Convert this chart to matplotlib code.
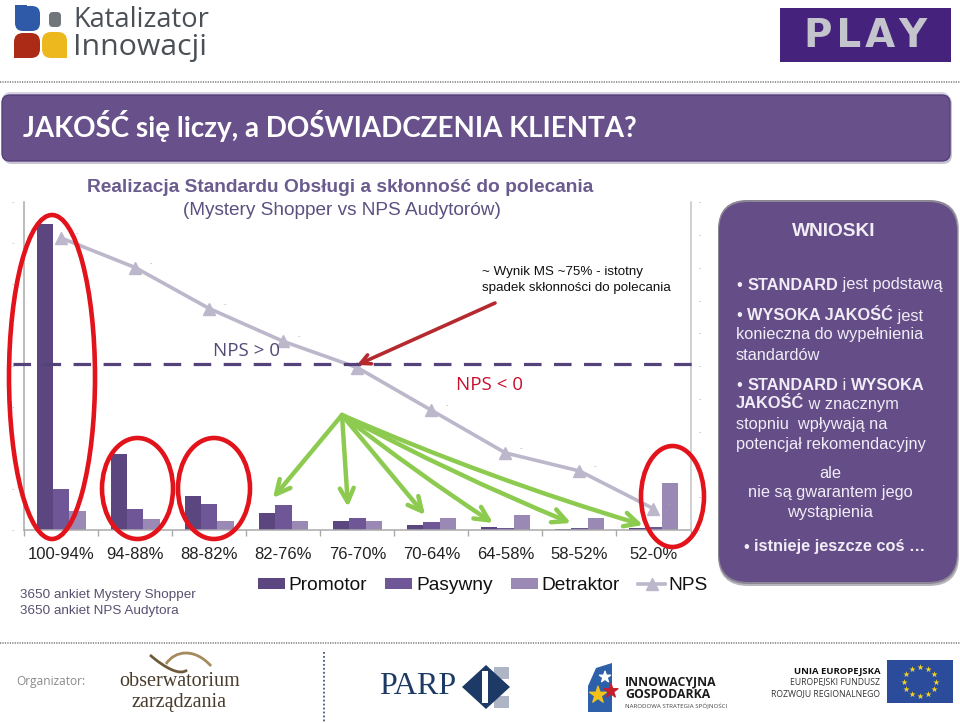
import numpy as np
import matplotlib
matplotlib.use("Agg")
import matplotlib.pyplot as plt
from matplotlib.patches import FancyBboxPatch, Ellipse, Rectangle, Polygon, PathPatch
from matplotlib.path import Path

categories = ["100-94%", "94-88%", "88-82%", "82-76%", "76-70%", "70-64%", "64-58%", "58-52%", "52-0%"]
promotor = [74.6, 18.6, 8.2, 4.1, 2.1, 1.1, 0.8, 0.2, 0.4]
pasywny = [10.0, 5.1, 6.4, 6.1, 3.0, 1.9, 0.5, 0.5, 0.65]
detraktor = [4.6, 2.6, 2.3, 2.1, 2.1, 2.9, 3.7, 2.9, 11.4]
nps = [78, 60, 35, 15, -1, -27, -53, -64, -87]

PROM, PAS, DET, NPSC = "#5B4680", "#6F5697", "#9A89B5", "#BDB7CC"
PANEL = "#654D87"
SANS = "Liberation Sans"

W, H = 960, 723
fig = plt.figure(figsize=(W / 100, H / 100), dpi=100, facecolor="white")

def px_axes(l, t, r, b, **kw):
    return fig.add_axes([l / W, 1 - b / H, (r - l) / W, (b - t) / H], **kw)

# ---------- background layer (pixel coordinates) ----------
bg = fig.add_axes([0, 0, 1, 1], zorder=0)
bg.set_xlim(0, W); bg.set_ylim(H, 0); bg.axis("off")

def rbox(ax, x0, y0, x1, y1, r, **kw):
    p = FancyBboxPatch((x0 + r, y0 + r), x1 - x0 - 2 * r, y1 - y0 - 2 * r,
                       boxstyle=f"round,pad={r},rounding_size={r}", **kw)
    ax.add_patch(p)
    return p

# dotted separators
bg.plot([0, 960], [82, 82], color="#777777", lw=1.1, ls=(0, (0.8, 0.8)))
bg.plot([0, 960], [643, 643], color="#777777", lw=1.1, ls=(0, (0.8, 0.8)))
bg.plot([324, 324], [652, 722], color="#44597a", lw=1.3, ls=(0, (1, 1.2)))

# title bar
rbox(bg, 3, 95, 952, 164, 9, fc="#c9c4d4", ec="none")
rbox(bg, 2, 92, 950, 162, 9, fc="#d9d2e2", ec="none")
rbox(bg, 2, 95, 950, 161, 8, fc="#68508A", ec="#55407a", lw=1)
bg.text(23, 126, "JAKOŚĆ się liczy, a DOŚWIADCZENIA KLIENTA?", family="Lato", fontsize=20.0,
        color="white", va="center", ha="left", weight="bold")

# Katalizator logo
rbox(bg, 15, 6, 40, 31, 8, fc="#2f5aa8", ec="none")
bg.add_patch(Rectangle((15, 5), 12, 12, fc="#2f5aa8", ec="none"))
rbox(bg, 49, 12, 61, 27, 4, fc="#70767c", ec="none")
rbox(bg, 14, 33, 40, 58, 9, fc="#ac2b17", ec="none")
bg.add_patch(Rectangle((14, 46), 12, 12, fc="#ac2b17", ec="none"))
rbox(bg, 42, 32, 67, 58, 9, fc="#edb81e", ec="none")
bg.add_patch(Rectangle((55, 46), 12, 12, fc="#edb81e", ec="none"))
bg.text(73, 20, "Katalizator", family="Open Sans", fontsize=19.6, color="#4a5056", va="center")
bg.text(73, 47, "Innowacji", family="Open Sans", fontsize=21.8, color="#4a5056", va="center")

# PLAY logo
bg.add_patch(Rectangle((780, 8), 171, 54, fc="#45237C", ec="none"))
bg.text(866, 36, "P\u200aL\u200aA\u200aY", family="DejaVu Sans", weight="bold", fontsize=28, color="#c4c4cc",
        ha="center", va="center")

# headings
bg.text(340, 187, "Realizacja Standardu Obsługi a skłonność do polecania", family=SANS, weight="bold",
        fontsize=13.8, color="#6A5C8E", ha="center", va="center")
bg.text(341.5, 210.5, "(Mystery Shopper vs NPS Audytorów)", family=SANS, fontsize=13.7, color="#5C5080",
        ha="center", va="center")
bg.text(20, 595, "3650 ankiet Mystery Shopper", family=SANS, fontsize=9.7, color="#5A5070", va="center")
bg.text(20, 611, "3650 ankiet NPS Audytora", family=SANS, fontsize=9.7, color="#5A5070", va="center")

# conclusions panel
rbox(bg, 718, 200, 959, 586, 30, fc="#b5b5bb", ec="none")
rbox(bg, 718, 200, 958, 584, 30, fc="#8b8595", ec="none")
rbox(bg, 719, 202, 957, 582, 29, fc=PANEL, ec="none")

PT = "#F1EDF6"
PFS = 11.8
fig.canvas.draw()
rend = fig.canvas.get_renderer()

def runs(x, y, parts, size=PFS):
    for s, bold in parts:
        t = bg.text(x, y + 1, s, family=SANS, fontsize=size, color=PT, va="center", ha="left",
                    weight="bold" if bold else "normal")
        x += t.get_window_extent(rend).width

bg.text(834, 232, "WNIOSKI", family=SANS, weight="bold", fontsize=13.8, color=PT, ha="center", va="center")
runs(737, 284, [("• ", False), ("STANDARD", True), (" jest podstawą", False)])
runs(737, 315, [("• ", False), ("WYSOKA JAKOŚĆ", True), (" jest", False)])
runs(736, 334, [("konieczna do wypełnienia", False)])
runs(736, 354, [("standardów", False)])
runs(737, 384, [("• ", False), ("STANDARD", True), (" i ", False), ("WYSOKA", True)])
runs(736, 403, [("JAKOŚĆ", True), (" w znacznym", False)])
runs(736, 423, [("stopniu  wpływają na", False)])
runs(736, 443, [("potencjał rekomendacyjny", False)])
for y, s in [(473, "ale"), (493, "nie są gwarantem jego"), (513, "wystąpienia")]:
    bg.text(830, y, s, family=SANS, fontsize=PFS, color=PT, ha="center", va="center")
runs(744, 546, [("• ", False), ("istnieje jeszcze coś …", True)])

# footer
bg.text(16, 681, "Organizator:", family="Open Sans", fontsize=8.6, color="#8a8a8a", va="center")
bg.text(179.5, 682, "obserwatorium", family="Liberation Serif", fontsize=14.5, color="#4a3c2c",
        ha="center", va="center")
bg.text(179.5, 702, "zarządzania", family="Liberation Serif", fontsize=14.5, color="#4a3c2c",
        ha="center", va="center")
for pts, col in [([(150, 655), (165, 668), (180, 676), (187, 670)], "#6f5a3a"),
                 ([(166, 664), (175, 650), (195, 648), (211, 666)], "#a58a5c")]:
    bg.add_patch(PathPatch(Path(pts, [Path.MOVETO, Path.CURVE4, Path.CURVE4, Path.CURVE4]),
                           fc="none", ec=col, lw=2))

bg.text(417.5, 687, "PARP", family="Liberation Serif", fontsize=23, color="#1d3a66", ha="center", va="center")
bg.add_patch(Rectangle((494, 667), 15, 12, fc="#aeb5c4", ec="none"))
bg.add_patch(Rectangle((494, 696), 15, 12, fc="#aeb5c4", ec="none"))
bg.add_patch(Polygon([(486, 665), (510, 687), (486, 709), (462, 687)], fc="#1d3a66", ec="none"))
bg.add_patch(Rectangle((482, 671), 6, 32, fc="white", ec="none"))

bg.add_patch(Polygon([(596, 668), (612, 663), (612, 712), (588, 712), (588, 686)], fc="#2E5FA9", ec="none"))
bg.scatter([605, 598, 611], [677, 695, 691], marker="*", s=[70, 160, 110],
           c=["white", "#f2c21b", "#c41f2c"], zorder=3)
bg.text(625, 682, "INNOWACYJNA", family="Open Sans", weight="bold", fontsize=8.8, color="#1b1b1b", va="center")
bg.text(625, 695, "GOSPODARKA", family="Open Sans", weight="bold", fontsize=8.8, color="#1b1b1b", va="center")
bg.text(625, 705, "NARODOWA STRATEGIA SPÓJNOŚCI", family="Open Sans", fontsize=4.4, color="#444444", va="center")

bg.text(880, 671, "UNIA EUROPEJSKA", family="Open Sans", weight="bold", fontsize=6.8, color="#111111", ha="right", va="center")
bg.text(880, 682, "EUROPEJSKI FUNDUSZ", family="Open Sans", fontsize=6.2, color="#333333", ha="right", va="center")
bg.text(880, 694, "ROZWOJU REGIONALNEGO", family="Open Sans", fontsize=6.2, color="#333333", ha="right", va="center")
bg.add_patch(Rectangle((887, 660), 66, 43, fc="#2B4C9B", ec="none"))
ang = np.deg2rad(np.arange(0, 360, 30))
bg.scatter(920 + 16 * np.cos(ang), 681.5 + 14.5 * np.sin(ang), marker="*", s=22, c="#F4D320", zorder=3, linewidths=0)

# ---------- chart ----------
ax = px_axes(24.3, 202, 690.5, 530, zorder=2)
ax.patch.set_alpha(0)
x = np.arange(len(categories)) + 0.5
bw = 0.22
b1 = ax.bar(x - bw, promotor, bw, color=PROM, label="Promotor")
b2 = ax.bar(x, pasywny, bw, color=PAS, label="Pasywny")
b3 = ax.bar(x + bw, detraktor, bw, color=DET, label="Detraktor")
ax.set_xlim(0, len(categories)); ax.set_ylim(0, 80)
ax.set_xticks(np.arange(len(categories) + 1))
ax.set_xticklabels([])
ax.set_xticks(x, minor=True)
ax.set_xticklabels(categories, minor=True, family=SANS, fontsize=12, color="#222222")
ax.tick_params(axis="x", which="major", length=4, color="#a9a9a9", width=1)
ax.tick_params(axis="x", which="minor", length=0, pad=12)
ax.set_yticks(np.arange(0, 81, 10))
ax.set_yticklabels(["-"] * 9, fontsize=5, color="#aaaaaa")
ax.tick_params(axis="y", length=0, pad=7)
for s in ("top", "right"):
    ax.spines[s].set_visible(False)
for s in ("left", "bottom"):
    ax.spines[s].set_color("#a9a9a9"); ax.spines[s].set_linewidth(1.1)

ax2 = ax.twinx()
ax2.patch.set_alpha(0)
ln, = ax2.plot(x, nps, color=NPSC, lw=2.6, marker="^", ms=9, mec=NPSC, mfc=NPSC, label="NPS", zorder=4)
for xi, v in zip(x, nps):
    ax2.annotate("-", (xi, v), xytext=(10, 2), textcoords="offset points", fontsize=5, color="#aaaaaa")
ax2.set_ylim(-100, 100)
ax2.set_yticks(np.arange(-100, 101, 20))
ax2.set_yticklabels(["-"] * 11, fontsize=5, color="#aaaaaa")
ax2.tick_params(axis="y", length=0, pad=6)
for s in ("top", "left", "bottom"):
    ax2.spines[s].set_visible(False)
ax2.spines["right"].set_color("#c4c4c4"); ax2.spines["right"].set_linewidth(1.1)

leg = fig.legend([b1, b2, b3, ln], ["Promotor", "Pasywny", "Detraktor", "NPS"], ncol=4, frameon=False,
                 loc="center", bbox_to_anchor=(483 / W, 1 - 586 / H),
                 prop={"family": SANS, "size": 13.8}, handlelength=1.4, handleheight=0.55,
                 columnspacing=0.95, handletextpad=0.2, labelcolor="#111111")

# ---------- overlay annotations (pixel coordinates) ----------
ov = fig.add_axes([0, 0, 1, 1], zorder=5)
ov.set_xlim(0, W); ov.set_ylim(H, 0); ov.axis("off"); ov.patch.set_alpha(0)

ov.plot([13, 695], [364, 364], color="#54437A", lw=2.3, ls=(0, (5.5, 3.9)))
ov.text(213, 351, "NPS > 0", family="Open Sans", fontsize=13.5, color="#544A78", va="center")
ov.text(456, 385.5, "NPS < 0", family="Open Sans", fontsize=13.5, color="#C8102E", va="center")
ov.text(482, 271.5, "~ Wynik MS ~75% - istotny", family=SANS, fontsize=9.6, color="#111111", va="center")
ov.text(482, 288.5, "spadek skłonności do polecania", family=SANS, fontsize=9.6, color="#111111", va="center")

RED = "#E2131B"
for cx, cy, w, h in [(52, 377, 86, 324), (137.5, 488.5, 71, 101), (214, 488.5, 72, 101), (672.5, 496.5, 63, 101)]:
    ov.add_patch(Ellipse((cx, cy), w, h, fc="none", ec=RED, lw=3.3))

GREEN = "#8CCB4F"
for (tx, ty), rad in [((273, 498), 0), ((348, 507), 0), ((425, 515), 0), ((493, 523), 0.02),
                      ((571, 523), 0.025), ((643, 525), 0.03)]:
    ov.annotate("", xy=(tx, ty), xytext=(342, 415),
                arrowprops=dict(arrowstyle="->,head_length=1.0,head_width=0.5", color=GREEN, lw=3.2,
                                shrinkA=0, shrinkB=0, connectionstyle=f"arc3,rad={rad}"))
ov.annotate("", xy=(357, 365), xytext=(495, 303),
            arrowprops=dict(arrowstyle="->,head_length=0.7,head_width=0.35", color="#B52A2E", lw=2.6,
                            shrinkA=0, shrinkB=0))

fig.savefig("out.png", dpi=100, facecolor="white")
